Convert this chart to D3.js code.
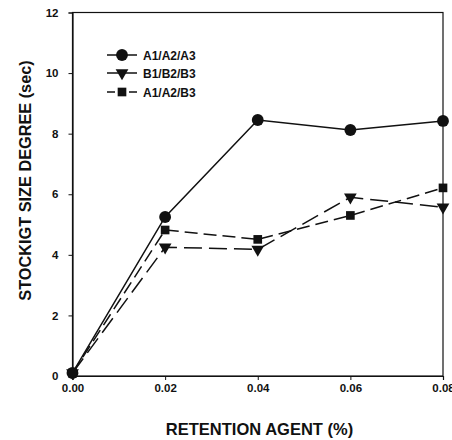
<!DOCTYPE html>
<html><head><meta charset="utf-8">
<script src="https://cdn.jsdelivr.net/npm/d3@7"></script>
<style>body{margin:0;background:#fff}svg{display:block}text{font-family:Arial,"Liberation Sans",sans-serif;font-weight:bold;fill:#111}</style>
</head><body><svg id="c" width="452" height="440"></svg>
<script>
const xValues = [0.00, 0.02, 0.04, 0.06, 0.08];
const seriesNames = ["A1/A2/A3", "B1/B2/B3", "A1/A2/B3"];
const seriesA = [0.1, 5.25, 8.45, 8.12, 8.42];
const seriesB = [0.1, 4.25, 4.18, 5.9, 5.57];
const seriesC = [0.1, 4.82, 4.51, 5.3, 6.21];
const xTicks = [0.00, 0.02, 0.04, 0.06, 0.08];
const yTicks = [0, 2, 4, 6, 8, 10, 12];

const svg = d3.select("#c");
const L = 72.5, R = 443, T = 12.5, B = 376;
const x = d3.scaleLinear().domain([0, 0.08]).range([L, R]);
const y = d3.scaleLinear().domain([0, 12]).range([B, T]);

// frame
svg.append("rect").attr("x", L).attr("y", T).attr("width", R - L).attr("height", B - T)
  .attr("fill", "none").attr("stroke", "#111").attr("stroke-width", 1.2);

const xa = svg.append("g").attr("transform", `translate(0,${B})`)
  .call(d3.axisBottom(x).tickValues(xTicks).tickFormat(d3.format(".2f")).tickSize(4).tickPadding(4));
const ya = svg.append("g").attr("transform", `translate(${L},0)`)
  .call(d3.axisLeft(y).tickValues(yTicks).tickFormat(d3.format("d")).tickSize(4).tickPadding(10));
[xa, ya].forEach(a => {
  a.select(".domain").attr("stroke", "#111").attr("stroke-width", 1.2);
  a.selectAll(".tick line").attr("stroke", "#111");
  a.selectAll("text").attr("font-size", 11.5).attr("font-family", "Arial, 'Liberation Sans', sans-serif").attr("font-weight", "bold").attr("fill", "#111");
});

svg.append("text").attr("x", 259.5).attr("y", 435).attr("text-anchor", "middle")
  .attr("font-size", 16.5).text("RETENTION AGENT (%)");
svg.append("text").attr("transform", `translate(31,180.5) rotate(-90)`).attr("text-anchor", "middle")
  .attr("font-size", 16.3).text("STOCKIGT SIZE DEGREE (sec)");

const data = [
  {name: seriesNames[0], vals: seriesA, dash: null, sym: d3.symbolCircle, size: 110},
  {name: seriesNames[1], vals: seriesB, dash: "18,7", sym: d3.symbolTriangle, size: 70, flip: true},
  {name: seriesNames[2], vals: seriesC, dash: "13,6", sym: d3.symbolSquare, size: 75}
];
const line = d3.line().x((d, i) => x(xValues[i])).y(d => y(d));

data.forEach(s => {
  svg.append("path").datum(s.vals).attr("d", line).attr("fill", "none")
    .attr("stroke", "#111").attr("stroke-width", 1.5).attr("stroke-dasharray", s.dash);
});
data.forEach(s => {
  svg.selectAll(null).data(s.vals).enter().append("path")
    .attr("d", d3.symbol().type(s.sym).size(s.size))
    .attr("transform", (d, i) => `translate(${x(xValues[i])},${y(d)})${s.flip ? " rotate(180)" : ""}`)
    .attr("fill", "#111");
});

// legend
const lx = 107, ly = [55, 73, 92];
data.forEach((s, i) => {
  svg.append("line").attr("x1", lx).attr("x2", lx + 30).attr("y1", ly[i]).attr("y2", ly[i])
    .attr("stroke", "#111").attr("stroke-width", 1.5).attr("stroke-dasharray", s.dash ? (i === 1 ? "30" : "8,3") : null);
  svg.append("path").attr("d", d3.symbol().type(s.sym).size(s.size))
    .attr("transform", `translate(${lx + 15},${ly[i]})${s.flip ? " rotate(180)" : ""}`).attr("fill", "#111");
  svg.append("text").attr("x", 143).attr("y", ly[i] + 4.5).attr("font-size", 12).text(s.name);
});
</script></body></html>
